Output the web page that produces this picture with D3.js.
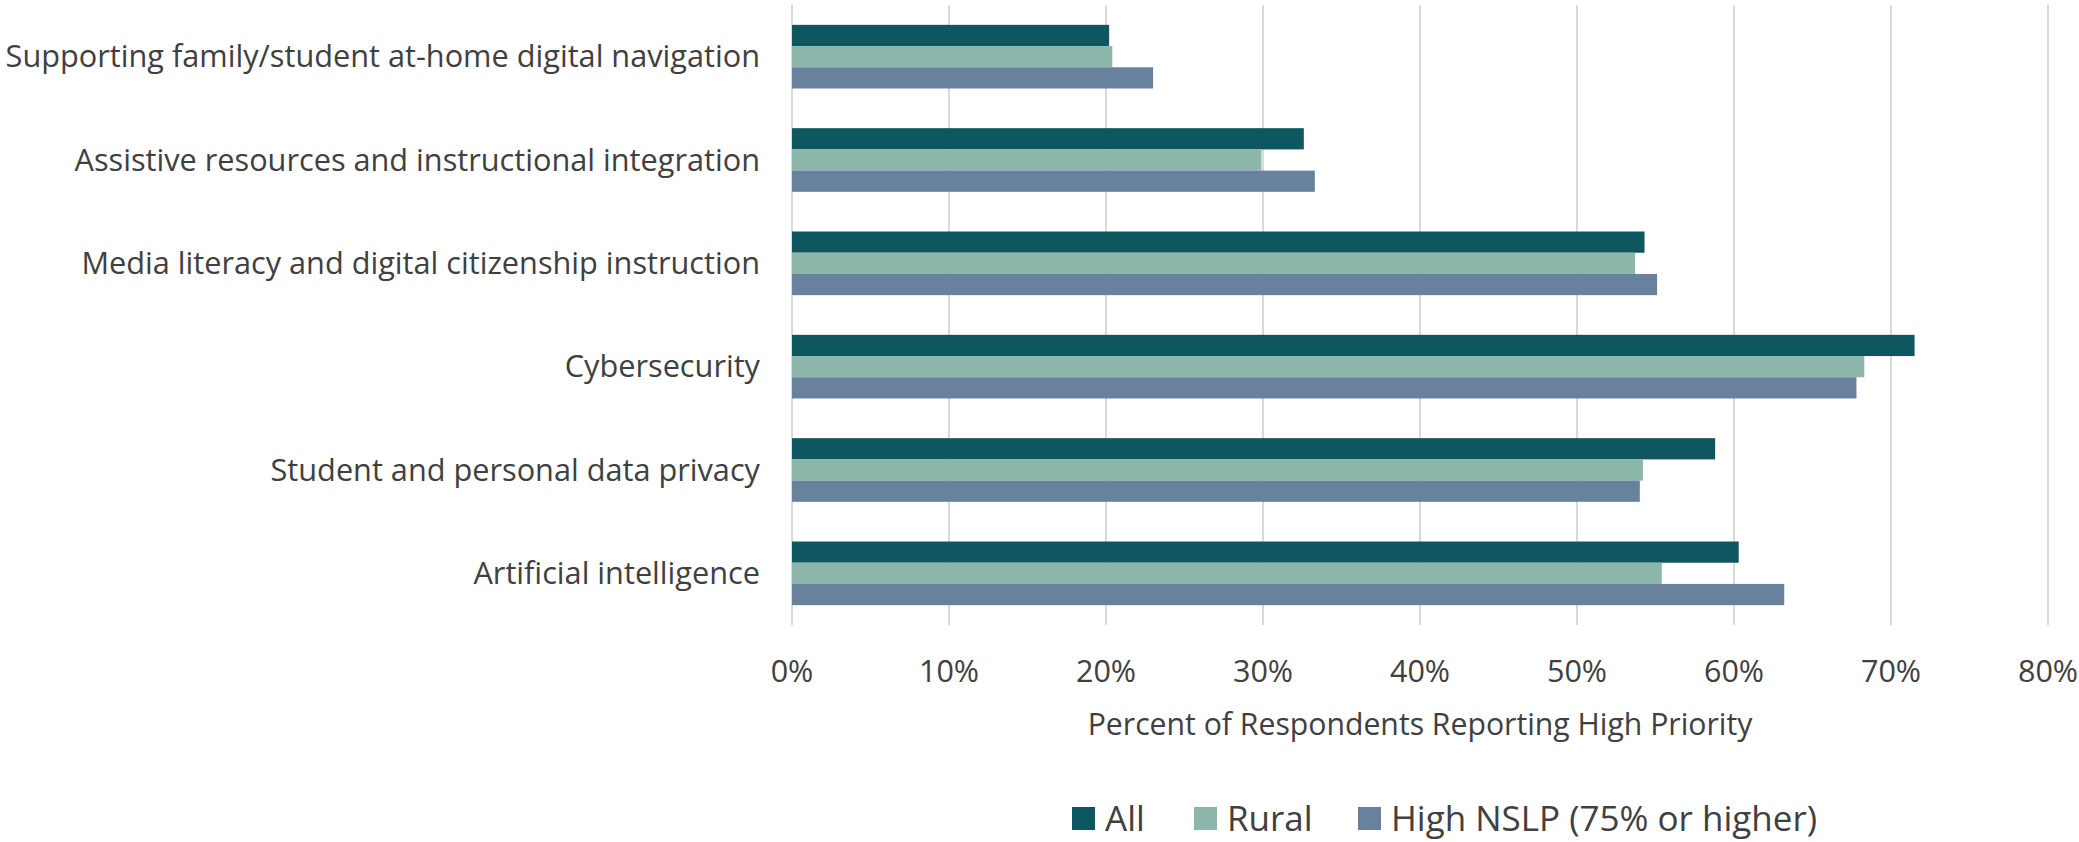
<!DOCTYPE html>
<html>
<head>
<meta charset="utf-8">
<script src="https://cdn.jsdelivr.net/npm/d3@7"></script>
<style>
  body { margin: 0; background: #fff; }
  text { font-family: "Open Sans", "Noto Sans", sans-serif; fill: #404040; }
</style>
</head>
<body>
<svg id="chart" width="2079" height="842"></svg>
<script>
// categories, top to bottom
const categories = [
  "Supporting family/student at-home digital navigation",
  "Assistive resources and instructional integration",
  "Media literacy and digital citizenship instruction",
  "Cybersecurity",
  "Student and personal data privacy",
  "Artificial intelligence"
];
const seriesNames = ["All", "Rural", "High NSLP (75% or higher)"];
const seriesColors = ["#0f5760", "#8db6ab", "#68819d"];

// percent of respondents reporting high priority
const allValues   = [20.2, 32.6, 54.3, 71.5, 58.8, 60.3];
const ruralValues = [20.4, 29.9, 53.7, 68.3, 54.2, 55.4];
const nslpValues  = [23.0, 33.3, 55.1, 67.8, 54.0, 63.2];
const xTicks = [0, 10, 20, 30, 40, 50, 60, 70, 80];

const seriesValues = [allValues, ruralValues, nslpValues];

let svg = d3.select("#chart");

// plot area
const plot = {left: 792, right: 2048, top: 5, bottom: 625};

let x = d3.scaleLinear()
  .domain([0, 80])
  .range([plot.left, plot.right]);

let y = d3.scaleBand()
  .domain(categories)
  .range([plot.top, plot.bottom])
  .paddingInner(0.384)
  .paddingOuter(0.192);

let ySub = d3.scaleBand()
  .domain(seriesNames)
  .range([0, y.bandwidth()]);

//gridlines
svg.append("g")
  .selectAll("line")
  .data(xTicks)
  .join("line")
  .attr("x1", d => x(d))
  .attr("x2", d => x(d))
  .attr("y1", plot.top)
  .attr("y2", plot.bottom)
  .attr("stroke", "#d9d9d9")
  .attr("stroke-width", 2);

// bars, one group per category
let groups = svg.append("g")
  .selectAll("g")
  .data(categories)
  .join("g")
  .attr("transform", d => "translate(0," + y(d) + ")");

groups.selectAll("rect")
  .data((d, i) => seriesNames.map((s, j) => ({series: s, value: seriesValues[j][i], idx: j})))
  .join("rect")
  .attr("x", x(0))
  .attr("y", d => ySub(d.series))
  .attr("width", d => x(d.value) - x(0))
  .attr("height", ySub.bandwidth())
  .attr("fill", d => seriesColors[d.idx]);

// category labels
svg.append("g")
  .selectAll("text")
  .data(categories)
  .join("text")
  .attr("x", 760)
  .attr("y", d => y(d) + y.bandwidth() / 2)
  .attr("dy", "0.35em")
  .attr("text-anchor", "end")
  .style("font-size", "30.7px")
  .text(d => d);

// x tick labels
svg.append("g")
  .selectAll("text")
  .data(xTicks)
  .join("text")
  .attr("x", d => x(d))
  .attr("y", 671)
  .attr("dy", "0.35em")
  .attr("text-anchor", "middle")
  .style("font-size", "30.5px")
  .text(d => d + "%");

// axis title
svg.append("text")
  .attr("x", (plot.left + plot.right) / 2)
  .attr("y", 724)
  .attr("dy", "0.35em")
  .attr("text-anchor", "middle")
  .style("font-size", "30.2px")
  .text("Percent of Respondents Reporting High Priority");

// legend
const legendX = [1072, 1194, 1358];
let legend = svg.append("g")
  .selectAll("g")
  .data(seriesNames)
  .join("g")
  .attr("transform", (d, i) => "translate(" + legendX[i] + ",807)");

legend.append("rect")
  .attr("width", 23)
  .attr("height", 23)
  .attr("fill", (d, i) => seriesColors[i]);

legend.append("text")
  .attr("x", 33)
  .attr("y", 12)
  .attr("dy", "0.35em")
  .style("font-size", "35px")
  .text(d => d);
</script>
</body>
</html>
